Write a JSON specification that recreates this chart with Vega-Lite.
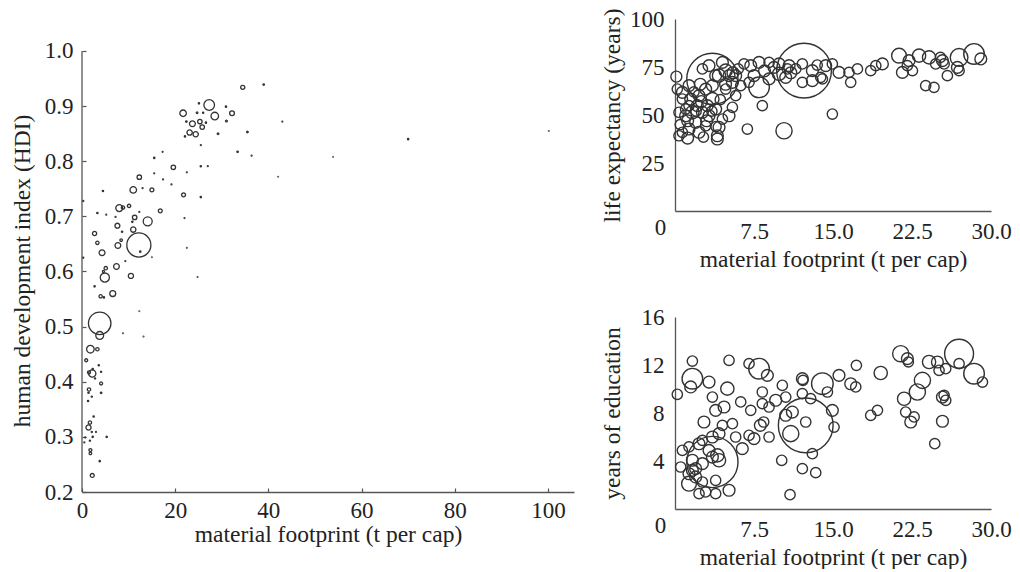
{
  "$schema": "https://vega.github.io/schema/vega-lite/v6.json",
  "background": "white",
  "padding": {"left": 10, "top": 8, "right": 0, "bottom": 0},
  "spacing": 26,
  "resolve": {"scale": {"size": "independent"}},
  "config": {
    "font": "Liberation Serif",
    "view": {"stroke": null},
    "axis": {
      "labelFont": "Liberation Serif", "titleFont": "Liberation Serif",
      "labelFontSize": 23, "titleFontSize": 23.5, "titleFontWeight": "normal",
      "labelColor": "#222", "titleColor": "#222",
      "domainColor": "#555", "domainWidth": 1.3, "tickColor": "#555", "tickWidth": 1.2,
      "grid": false, "labelFlush": false, "labelOverlap": false
    },
    "point": {"filled": false, "shape": "circle", "stroke": "#333", "strokeWidth": 1.4, "opacity": 1}
  },
  "hconcat": [
    {
      "width": 492, "height": 473,
      "layer": [
        {
          "data": {"values": [
            {"mf":34.5,"hdi":0.934,"pop":38},{"mf":39.0,"hdi":0.939,"pop":5},{"mf":27.3,"hdi":0.902,"pop":257},{"mf":28.5,"hdi":0.882,"pop":130},
            {"mf":21.7,"hdi":0.887,"pop":97},{"mf":25.1,"hdi":0.905,"pop":4},{"mf":24.7,"hdi":0.888,"pop":6},{"mf":26.0,"hdi":0.888,"pop":4},
            {"mf":30.9,"hdi":0.899,"pop":4},{"mf":32.2,"hdi":0.887,"pop":52},{"mf":23.7,"hdi":0.868,"pop":78},{"mf":25.3,"hdi":0.872,"pop":45},
            {"mf":25.8,"hdi":0.862,"pop":45},{"mf":22.4,"hdi":0.872,"pop":5},{"mf":26.6,"hdi":0.870,"pop":4},{"mf":31.0,"hdi":0.873,"pop":8},
            {"mf":23.1,"hdi":0.852,"pop":64},{"mf":24.4,"hdi":0.849,"pop":64},{"mf":22.1,"hdi":0.845,"pop":4},{"mf":29.2,"hdi":0.850,"pop":6},
            {"mf":35.5,"hdi":0.853,"pop":6},{"mf":25.5,"hdi":0.829,"pop":2},{"mf":33.4,"hdi":0.817,"pop":5},{"mf":36.4,"hdi":0.810,"pop":2},
            {"mf":43.0,"hdi":0.872,"pop":2},{"mf":70.0,"hdi":0.840,"pop":4},{"mf":53.9,"hdi":0.808,"pop":1},{"mf":42.1,"hdi":0.772,"pop":1},
            {"mf":100.2,"hdi":0.855,"pop":1},{"mf":17.3,"hdi":0.817,"pop":2},{"mf":15.5,"hdi":0.806,"pop":4},{"mf":19.6,"hdi":0.789,"pop":45},
            {"mf":22.5,"hdi":0.780,"pop":2},{"mf":25.5,"hdi":0.791,"pop":4},{"mf":27.0,"hdi":0.791,"pop":2},{"mf":12.3,"hdi":0.771,"pop":45},
            {"mf":15.5,"hdi":0.778,"pop":2},{"mf":17.4,"hdi":0.767,"pop":2},{"mf":19.2,"hdi":0.758,"pop":2},{"mf":11.0,"hdi":0.748,"pop":97},
            {"mf":15.0,"hdi":0.748,"pop":35},{"mf":4.5,"hdi":0.746,"pop":4},{"mf":13.0,"hdi":0.751,"pop":2},{"mf":21.8,"hdi":0.739,"pop":35},
            {"mf":25.5,"hdi":0.735,"pop":4},{"mf":8.0,"hdi":0.715,"pop":110},{"mf":8.8,"hdi":0.716,"pop":25},{"mf":10.1,"hdi":0.719,"pop":25},
            {"mf":0.25,"hdi":0.728,"pop":3},{"mf":16.8,"hdi":0.710,"pop":35},{"mf":3.3,"hdi":0.706,"pop":4},{"mf":5.2,"hdi":0.703,"pop":2},
            {"mf":7.2,"hdi":0.699,"pop":2},{"mf":12.3,"hdi":0.708,"pop":2},{"mf":14.1,"hdi":0.691,"pop":185},{"mf":11.3,"hdi":0.698,"pop":45},
            {"mf":10.8,"hdi":0.690,"pop":4},{"mf":22.0,"hdi":0.697,"pop":2},{"mf":2.7,"hdi":0.669,"pop":40},{"mf":7.6,"hdi":0.683,"pop":55},
            {"mf":11.0,"hdi":0.676,"pop":64},{"mf":8.6,"hdi":0.672,"pop":4},{"mf":3.3,"hdi":0.652,"pop":25},{"mf":7.7,"hdi":0.647,"pop":75},
            {"mf":12.2,"hdi":0.648,"pop":1320},{"mf":22.5,"hdi":0.643,"pop":1},{"mf":4.3,"hdi":0.634,"pop":78},{"mf":0.25,"hdi":0.625,"pop":3},
            {"mf":15.0,"hdi":0.626,"pop":1},{"mf":12.5,"hdi":0.636,"pop":4},{"mf":5.1,"hdi":0.606,"pop":25},{"mf":7.4,"hdi":0.609,"pop":75},
            {"mf":4.9,"hdi":0.589,"pop":190},{"mf":10.5,"hdi":0.592,"pop":60},{"mf":9.3,"hdi":0.619,"pop":2},{"mf":2.7,"hdi":0.573,"pop":4},
            {"mf":6.6,"hdi":0.560,"pop":80},{"mf":4.0,"hdi":0.555,"pop":25},{"mf":4.7,"hdi":0.553,"pop":4},{"mf":24.8,"hdi":0.590,"pop":1},
            {"mf":12.3,"hdi":0.528,"pop":1},{"mf":3.8,"hdi":0.506,"pop":1150},{"mf":3.8,"hdi":0.484,"pop":140},{"mf":8.8,"hdi":0.488,"pop":1},
            {"mf":13.2,"hdi":0.482,"pop":1},{"mf":1.8,"hdi":0.459,"pop":130},{"mf":3.3,"hdi":0.459,"pop":25},{"mf":0.9,"hdi":0.439,"pop":20},
            {"mf":3.6,"hdi":0.430,"pop":4},{"mf":2.3,"hdi":0.423,"pop":4},{"mf":2.2,"hdi":0.415,"pop":120},{"mf":1.5,"hdi":0.417,"pop":20},
            {"mf":4.1,"hdi":0.418,"pop":3},{"mf":2.8,"hdi":0.406,"pop":3},{"mf":4.1,"hdi":0.397,"pop":20},{"mf":1.5,"hdi":0.386,"pop":25},
            {"mf":1.4,"hdi":0.380,"pop":4},{"mf":4.1,"hdi":0.380,"pop":5},{"mf":2.1,"hdi":0.373,"pop":3},{"mf":1.3,"hdi":0.365,"pop":4},
            {"mf":2.5,"hdi":0.337,"pop":4},{"mf":1.7,"hdi":0.326,"pop":25},{"mf":1.4,"hdi":0.317,"pop":60},{"mf":2.1,"hdi":0.309,"pop":3},
            {"mf":3.0,"hdi":0.309,"pop":2},{"mf":5.3,"hdi":0.300,"pop":5},{"mf":2.3,"hdi":0.300,"pop":4},{"mf":0.7,"hdi":0.299,"pop":2},
            {"mf":1.7,"hdi":0.293,"pop":3},{"mf":0.5,"hdi":0.290,"pop":2},{"mf":1.8,"hdi":0.276,"pop":20},{"mf":1.8,"hdi":0.270,"pop":15},
            {"mf":3.8,"hdi":0.256,"pop":4},{"mf":2.2,"hdi":0.230,"pop":35},{"mf":4.6,"hdi":0.600,"pop":10},{"mf":8.4,"hdi":0.657,"pop":15}
          ]},
          "mark": {"type": "point", "clip": false, "strokeWidth": 1.3},
          "encoding": {
            "x": {"field": "mf", "type": "quantitative",
              "scale": {"domain": [0, 105.6], "nice": false, "zero": false},
              "axis": {"title": "material footprint (t per cap)", "values": [0, 20, 40, 60, 80, 100], "tickSize": -4, "labelPadding": 11, "titlePadding": 0}},
            "y": {"field": "hdi", "type": "quantitative",
              "scale": {"domain": [0.2, 1.058], "nice": false, "zero": false},
              "axis": {"title": "human development index (HDI)", "values": [0.2, 0.3, 0.4, 0.5, 0.6, 0.7, 0.8, 0.9, 1.0], "format": ".1f",
                "domain": false, "tickSize": -4, "labelPadding": 13, "titlePadding": 10, "titleY": 251.5}},
            "size": {"field": "pop", "type": "quantitative", "scale": {"type": "linear", "domain": [0, 1320], "range": [0, 581]}, "legend": null}
          }
        },
        {
          "data": {"values": [{"from": 0.2, "to": 1.0, "at": 0}]},
          "mark": {"type": "rule", "color": "#555", "strokeWidth": 1.3},
          "encoding": {
            "x": {"field": "at", "type": "quantitative"},
            "y": {"field": "from", "type": "quantitative"},
            "y2": {"field": "to"}
          }
        }
      ]
    },
    {
      "spacing": 35,
      "resolve": {"scale": {"size": "independent"}},
      "vconcat": [
        {
          "width": 316, "height": 192,
          "data": {"values": [
            {"mf":3.55,"le":68.8,"pop":1166},{"mf":12.25,"le":73.1,"pop":1339},{"mf":0.13,"le":70.0,"pop":10},
            {"mf":28.39,"le":81.8,"pop":150},{"mf":29.03,"le":79.2,"pop":18},{"mf":26.97,"le":80.0,"pop":98},{"mf":26.81,"le":74.8,"pop":18},
            {"mf":26.97,"le":73.1,"pop":3},{"mf":25.39,"le":78.3,"pop":18},{"mf":25.2,"le":80.0,"pop":3},{"mf":25.55,"le":76.6,"pop":3},
            {"mf":25.86,"le":70.5,"pop":3},{"mf":24.75,"le":76.6,"pop":3},{"mf":24.12,"le":80.0,"pop":35},{"mf":23.17,"le":80.9,"pop":35},
            {"mf":22.22,"le":78.3,"pop":18},{"mf":21.27,"le":80.9,"pop":55},{"mf":21.59,"le":72.2,"pop":18},{"mf":22.54,"le":73.1,"pop":3},
            {"mf":22.06,"le":75.7,"pop":3},{"mf":23.80,"le":65.3,"pop":3},{"mf":24.59,"le":64.4,"pop":3},
            {"mf":19.69,"le":76.6,"pop":18},{"mf":19.06,"le":75.7,"pop":3},{"mf":18.58,"le":73.1,"pop":3},{"mf":17.32,"le":74.0,"pop":3},
            {"mf":16.68,"le":67.0,"pop":3},{"mf":16.52,"le":72.2,"pop":3},{"mf":15.57,"le":72.2,"pop":18},{"mf":14.94,"le":50.5,"pop":3},
            {"mf":10.35,"le":41.8,"pop":75},{"mf":6.87,"le":42.7,"pop":3},{"mf":8.29,"le":54.9,"pop":3},{"mf":5.13,"le":49.6,"pop":18},
            {"mf":5.45,"le":54.0,"pop":3},{"mf":4.02,"le":37.5,"pop":18},{"mf":4.02,"le":39.2,"pop":18},
            {"mf":7.19,"le":75.7,"pop":18},{"mf":7.98,"le":77.4,"pop":18},{"mf":8.93,"le":77.4,"pop":3},{"mf":9.88,"le":76.6,"pop":18},
            {"mf":10.83,"le":75.7,"pop":18},{"mf":11.46,"le":74.0,"pop":3},{"mf":12.09,"le":76.6,"pop":3},{"mf":13.04,"le":73.1,"pop":18},
            {"mf":13.83,"le":69.6,"pop":3},{"mf":14.31,"le":75.7,"pop":18},{"mf":14.94,"le":76.6,"pop":3},{"mf":7.50,"le":70.5,"pop":18},
            {"mf":7.98,"le":64.4,"pop":150},{"mf":8.93,"le":68.8,"pop":18},{"mf":9.88,"le":71.4,"pop":35},{"mf":10.51,"le":69.6,"pop":18},
            {"mf":12.09,"le":67.0,"pop":3},{"mf":13.04,"le":67.9,"pop":18},{"mf":13.99,"le":68.8,"pop":3},{"mf":7.03,"le":67.0,"pop":3},
            {"mf":6.24,"le":65.3,"pop":3},{"mf":6.55,"le":76.6,"pop":3},{"mf":10.67,"le":74.0,"pop":3},{"mf":9.4,"le":74.8,"pop":18},
            {"mf":4.50,"le":77.4,"pop":18},{"mf":5.13,"le":70.5,"pop":18},{"mf":5.76,"le":70.5,"pop":18},{"mf":4.18,"le":70.5,"pop":35},
            {"mf":3.23,"le":75.7,"pop":18},{"mf":2.60,"le":74.0,"pop":3},{"mf":4.81,"le":73.1,"pop":35},{"mf":1.33,"le":65.3,"pop":18},
            {"mf":0.70,"le":61.8,"pop":18},{"mf":0.70,"le":58.3,"pop":3},{"mf":1.49,"le":58.3,"pop":18},{"mf":2.28,"le":60.1,"pop":18},
            {"mf":2.91,"le":63.5,"pop":18},{"mf":3.55,"le":58.3,"pop":35},{"mf":3.86,"le":53.1,"pop":18},{"mf":1.65,"le":51.4,"pop":35},
            {"mf":1.01,"le":49.6,"pop":18},{"mf":2.60,"le":51.4,"pop":18},{"mf":3.23,"le":49.6,"pop":18},{"mf":1.96,"le":46.2,"pop":18},
            {"mf":1.33,"le":42.7,"pop":18},{"mf":0.70,"le":41.0,"pop":3},{"mf":0.38,"le":39.2,"pop":3},{"mf":2.28,"le":41.0,"pop":18},
            {"mf":2.91,"le":44.4,"pop":3},{"mf":4.18,"le":43.6,"pop":18},{"mf":4.50,"le":47.9,"pop":3},{"mf":1.01,"le":53.1,"pop":3},
            {"mf":0.38,"le":51.4,"pop":3},{"mf":0.22,"le":63.5,"pop":3},{"mf":3.55,"le":65.3,"pop":18},{"mf":4.81,"le":63.5,"pop":3},
            {"mf":5.45,"le":67.0,"pop":18},{"mf":2.12,"le":54.9,"pop":18},{"mf":1.33,"le":54.9,"pop":3},{"mf":3.07,"le":54.9,"pop":18},
            {"mf":5.76,"le":60.1,"pop":3},{"mf":3.86,"le":70.5,"pop":18},
            {"mf":0.5,"le":45.0,"pop":3},{"mf":1.2,"le":47.0,"pop":18},{"mf":2.0,"le":52.0,"pop":3},{"mf":2.5,"le":57.0,"pop":18},
            {"mf":3.0,"le":47.0,"pop":18},{"mf":3.5,"le":52.0,"pop":3},{"mf":1.8,"le":62.0,"pop":3},{"mf":2.4,"le":66.0,"pop":18},
            {"mf":4.3,"le":58.0,"pop":3},{"mf":4.8,"le":66.0,"pop":18},{"mf":3.9,"le":44.0,"pop":3},{"mf":1.2,"le":38.0,"pop":18},
            {"mf":2.7,"le":38.5,"pop":3},{"mf":5.5,"le":72.0,"pop":18},{"mf":6.0,"le":74.0,"pop":3},{"mf":8.5,"le":73.0,"pop":18},
            {"mf":11.0,"le":72.0,"pop":18},{"mf":13.5,"le":76.0,"pop":3}
          ]},
          "mark": {"type": "point", "clip": false},
          "encoding": {
            "x": {"field": "mf", "type": "quantitative",
              "scale": {"domain": [0, 30], "nice": false, "zero": false},
              "axis": {"title": "material footprint (t per cap)", "values": [0, 7.5, 15, 22.5, 30],
                "labelExpr": "datum.value === 0 ? '0' : format(datum.value, '.1f')",
                "ticks": false, "titlePadding": 4,
                "labelPadding": {"condition": {"test": "datum.value === 0", "value": 5}, "value": 9},
                "labelOffset": {"condition": {"test": "datum.value === 0", "value": -15}, "value": 0}}},
            "y": {"field": "le", "type": "quantitative",
              "scale": {"domain": [0, 100], "nice": false, "zero": false},
              "axis": {"title": "life expectancy (years)", "values": [25, 50, 75, 100], "ticks": false, "labelPadding": 11, "titlePadding": 5}},
            "size": {"field": "pop", "type": "quantitative", "scale": {"type": "linear", "domain": [0, 1340], "range": [100, 3000]}, "legend": null}
          }
        },
        {
          "width": 316, "height": 192,
          "data": {"values": [
            {"mf":3.55,"edu":3.92,"pop":1166},{"mf":12.41,"edu":6.97,"pop":1339},{"mf":26.97,"edu":12.94,"pop":340},
            {"mf":1.65,"edu":12.33,"pop":3},{"mf":5.13,"edu":12.39,"pop":3},{"mf":7.03,"edu":12.11,"pop":3},{"mf":7.98,"edu":11.69,"pop":150},
            {"mf":8.77,"edu":11.14,"pop":18},{"mf":1.65,"edu":10.86,"pop":150},{"mf":1.49,"edu":10.17,"pop":18},{"mf":3.23,"edu":10.58,"pop":18},
            {"mf":4.97,"edu":10.03,"pop":35},{"mf":0.22,"edu":9.56,"pop":3},{"mf":3.55,"edu":9.33,"pop":3},{"mf":4.66,"edu":8.50,"pop":18},
            {"mf":6.24,"edu":8.92,"pop":3},{"mf":8.29,"edu":9.75,"pop":3},{"mf":7.19,"edu":8.22,"pop":3},{"mf":8.29,"edu":8.78,"pop":3},
            {"mf":8.93,"edu":8.50,"pop":3},{"mf":10.19,"edu":10.31,"pop":3},{"mf":9.56,"edu":9.06,"pop":18},{"mf":10.51,"edu":9.33,"pop":3},
            {"mf":12.09,"edu":10.86,"pop":18},{"mf":12.15,"edu":10.72,"pop":3},{"mf":12.09,"edu":9.61,"pop":3},{"mf":12.88,"edu":9.19,"pop":3},
            {"mf":13.99,"edu":10.44,"pop":170},{"mf":14.47,"edu":9.75,"pop":3},{"mf":15.57,"edu":11.14,"pop":18},{"mf":16.68,"edu":10.44,"pop":18},
            {"mf":17.16,"edu":10.17,"pop":3},{"mf":17.22,"edu":11.97,"pop":3},{"mf":19.53,"edu":11.33,"pop":35},{"mf":18.58,"edu":7.81,"pop":3},
            {"mf":19.22,"edu":8.22,"pop":3},{"mf":21.43,"edu":12.94,"pop":75},{"mf":22.06,"edu":12.53,"pop":18},{"mf":22.16,"edu":12.25,"pop":1},
            {"mf":24.12,"edu":12.25,"pop":35},{"mf":24.91,"edu":12.25,"pop":18},{"mf":25.07,"edu":11.56,"pop":3},{"mf":25.70,"edu":11.69,"pop":3},
            {"mf":26.97,"edu":12.11,"pop":3},{"mf":28.39,"edu":11.28,"pop":150},{"mf":29.19,"edu":10.58,"pop":3},{"mf":23.49,"edu":10.72,"pop":75},
            {"mf":23.01,"edu":9.75,"pop":75},{"mf":21.75,"edu":9.19,"pop":35},{"mf":21.90,"edu":8.08,"pop":3},{"mf":22.70,"edu":7.67,"pop":3},
            {"mf":22.38,"edu":7.25,"pop":18},{"mf":25.39,"edu":9.33,"pop":18},{"mf":25.70,"edu":9.06,"pop":3},{"mf":25.55,"edu":9.47,"pop":3},
            {"mf":25.39,"edu":7.31,"pop":18},{"mf":24.66,"edu":5.44,"pop":3},{"mf":10.99,"edu":6.28,"pop":75},{"mf":11.14,"edu":8.08,"pop":18},
            {"mf":10.51,"edu":7.81,"pop":18},{"mf":12.41,"edu":7.25,"pop":3},{"mf":14.94,"edu":8.22,"pop":18},{"mf":15.10,"edu":6.83,"pop":3},
            {"mf":13.04,"edu":4.61,"pop":3},{"mf":12.09,"edu":3.36,"pop":3},{"mf":13.36,"edu":3.03,"pop":3},{"mf":10.13,"edu":4.06,"pop":3},
            {"mf":10.92,"edu":1.19,"pop":3},{"mf":8.93,"edu":6.00,"pop":3},{"mf":7.50,"edu":5.86,"pop":18},{"mf":7.03,"edu":6.14,"pop":3},
            {"mf":6.39,"edu":5.03,"pop":18},{"mf":5.45,"edu":7.11,"pop":3},{"mf":4.50,"edu":6.97,"pop":3},{"mf":2.75,"edu":7.25,"pop":18},
            {"mf":3.86,"edu":8.22,"pop":18},{"mf":5.13,"edu":1.56,"pop":18},{"mf":3.55,"edu":4.33,"pop":18},{"mf":4.02,"edu":4.47,"pop":35},
            {"mf":4.18,"edu":4.06,"pop":35},{"mf":3.23,"edu":4.89,"pop":18},{"mf":2.28,"edu":5.44,"pop":18},{"mf":1.33,"edu":5.17,"pop":3},
            {"mf":0.70,"edu":4.89,"pop":3},{"mf":1.65,"edu":4.06,"pop":18},{"mf":2.60,"edu":3.78,"pop":18},{"mf":0.54,"edu":3.50,"pop":3},
            {"mf":1.65,"edu":3.22,"pop":18},{"mf":1.96,"edu":2.67,"pop":18},{"mf":1.33,"edu":2.11,"pop":55},{"mf":2.60,"edu":2.25,"pop":3},
            {"mf":3.86,"edu":2.39,"pop":3},{"mf":2.91,"edu":1.42,"pop":3},{"mf":3.86,"edu":1.28,"pop":3},{"mf":2.28,"edu":1.28,"pop":3},
            {"mf":1.96,"edu":3.36,"pop":18},{"mf":4.18,"edu":6.28,"pop":18},{"mf":3.55,"edu":6.00,"pop":18},{"mf":5.76,"edu":6.00,"pop":3},
            {"mf":8.10,"edu":6.97,"pop":18},{"mf":8.42,"edu":7.25,"pop":3},{"mf":2.60,"edu":5.72,"pop":3},{"mf":1.33,"edu":2.94,"pop":18}
          ]},
          "mark": {"type": "point", "clip": false},
          "encoding": {
            "x": {"field": "mf", "type": "quantitative",
              "scale": {"domain": [0, 30], "nice": false, "zero": false},
              "axis": {"title": "material footprint (t per cap)", "values": [0, 7.5, 15, 22.5, 30],
                "labelExpr": "datum.value === 0 ? '0' : format(datum.value, '.1f')",
                "ticks": false, "titlePadding": 4,
                "labelPadding": {"condition": {"test": "datum.value === 0", "value": 5}, "value": 9},
                "labelOffset": {"condition": {"test": "datum.value === 0", "value": -15}, "value": 0}}},
            "y": {"field": "edu", "type": "quantitative",
              "scale": {"domain": [0, 16], "nice": false, "zero": false},
              "axis": {"title": "years of education", "values": [4, 8, 12, 16], "ticks": false, "labelPadding": 11, "titlePadding": 16.5}},
            "size": {"field": "pop", "type": "quantitative", "scale": {"type": "linear", "domain": [0, 1340], "range": [100, 3000]}, "legend": null}
          }
        }
      ]
    }
  ]
}
